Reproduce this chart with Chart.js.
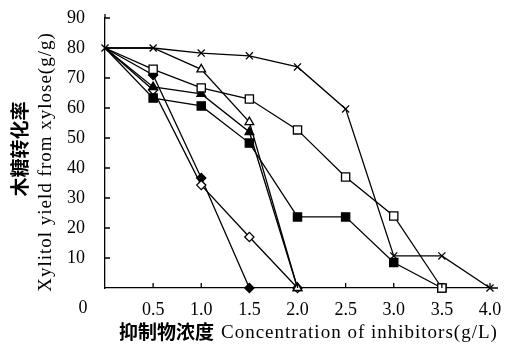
<!DOCTYPE html>
<html>
<head>
<meta charset="utf-8">
<script src="https://cdn.jsdelivr.net/npm/chart.js@4"></script>
<style>
  html, body { margin: 0; padding: 0; background: #fff; }
  #wrap { width: 510px; height: 344px; }
</style>
</head>
<body>
<div id="wrap"><canvas id="chart" width="510" height="344"></canvas></div>
<script>
// inhibitor concentration (g/L)
const concentration = [0, 0.5, 1.0, 1.5, 2.0, 2.5, 3.0, 3.5, 4.0];
// xylitol yield from xylose, one array per inhibitor
const crossYield = [80, 80, 78.3, 77.4, 73.7, 59.7, 10.7, 10.7, 0];
const openSquareYield = [80, 72.9, 66.7, 63, 52.7, 37, 24, 0];
const filledSquareYield = [80, 63.3, 60.7, 48.3, 23.7, 23.7, 8.5, 0];
const openTriangleYield = [80, 80, 72.9, 55.3, 0];
const filledTriangleYield = [80, 67, 64.7, 52, 0];
const filledDiamondYield = [80, 71, 36.7, 0];
const openDiamondYield = [80, 66, 34.3, 17, 0];

const xTicks = [0.5, 1.0, 1.5, 2.0, 2.5, 3.0, 3.5, 4.0];
const yTicks = [10, 20, 30, 40, 50, 60, 70, 80, 90];

const serif = '"Liberation Serif", "DejaVu Serif", serif';

function pts(values) {
    return values.map((v, i) => ({ x: concentration[i], y: v }));
}

// hide markers where several curves start from the same point
function makeSeries(values, style, fill, radius, hideAt) {
    return {
        data: pts(values),
        borderColor: '#000',
        borderWidth: 1.3,
        pointStyle: style,
        pointBackgroundColor: fill,
        pointBorderColor: '#000',
        pointBorderWidth: 1.3,
        pointRadius: ctx => hideAt.includes(ctx.dataIndex) ? 0 : radius,
        tension: 0,
        clip: false
    };
}

const axisExtras = {
    id: 'axisExtras',
    afterDraw(chart) {
        const ctx = chart.ctx;
        const x = chart.scales.x;
        const y = chart.scales.y;
        ctx.save();
        ctx.strokeStyle = '#000';
        ctx.lineWidth = 1.3;
        // inward tick marks
        ctx.beginPath();
        xTicks.forEach(t => {
            const px = x.getPixelForValue(t);
            ctx.moveTo(px, y.bottom);
            ctx.lineTo(px, y.bottom - 5);
        });
        yTicks.forEach(t => {
            const py = y.getPixelForValue(t);
            ctx.moveTo(x.left, py);
            ctx.lineTo(x.left + 5, py);
        });
        // axis line runs a little past the top tick
        ctx.moveTo(x.left, y.top);
        ctx.lineTo(x.left, y.top - 4);
        ctx.moveTo(x.right, y.bottom);
        ctx.lineTo(x.right + 8, y.bottom);
        ctx.stroke();

        ctx.fillStyle = '#000';
        // origin label
        ctx.font = '18px ' + serif;
        ctx.textAlign = 'center';
        ctx.textBaseline = 'middle';
        ctx.fillText('0', x.getPixelForValue(0) - 22, y.bottom + 20);

        // x title
        ctx.textAlign = 'left';
        ctx.textBaseline = 'middle';
        ctx.font = 'bold 19px "Noto Sans CJK SC"';
        ctx.fillText('抑制物浓度', 119, 332);
        ctx.letterSpacing = '1px';
        ctx.font = '19px ' + serif;
        ctx.fillText('Concentration of inhibitors(g/L)', 221, 333);

        // y title
        ctx.save();
        ctx.translate(20, 149);
        ctx.rotate(-Math.PI / 2);
        ctx.textAlign = 'center';
        ctx.letterSpacing = '0px';
        ctx.font = 'bold 19px "Noto Sans CJK SC"';
        ctx.fillText('木糖转化率', 0, 0);
        ctx.restore();
        ctx.save();
        ctx.translate(46, 162);
        ctx.rotate(-Math.PI / 2);
        ctx.textAlign = 'center';
        ctx.letterSpacing = '1px';
        ctx.font = '19px ' + serif;
        ctx.fillText('Xylitol yield from xylose(g/g)', 0, 0);
        ctx.restore();
        ctx.restore();
    }
};

new Chart(document.getElementById('chart'), {
    type: 'line',
    data: {
        datasets: [
            makeSeries(crossYield, 'crossRot', '#000', 5, []),
            makeSeries(openSquareYield, 'rect', '#fff', 5.8, [0]),
            makeSeries(filledSquareYield, 'rect', '#000', 5.8, [0]),
            makeSeries(openTriangleYield, 'triangle', '#fff', 5, [0, 1]),
            makeSeries(filledTriangleYield, 'triangle', '#000', 5, [0]),
            makeSeries(openDiamondYield, 'rectRot', '#fff', 4.6, [0]),
            makeSeries(filledDiamondYield, 'rectRot', '#000', 4.6, [0])
        ]
    },
    options: {
        responsive: false,
        animation: false,
        layout: { padding: { left: 0, right: 20, top: 18, bottom: 0 } },
        plugins: {
            legend: { display: false },
            tooltip: { enabled: false }
        },
        scales: {
            x: {
                type: 'linear',
                min: 0,
                max: 4.0,
                afterBuildTicks: scale => {
                    scale.ticks = xTicks.map(v => ({ value: v }));
                },
                afterFit: scale => {
                    scale.height = 56;
                    scale.paddingLeft = 0;
                    scale.paddingRight = 0;
                },
                grid: { display: false, drawTicks: false },
                border: { display: true, color: '#000', width: 1.3 },
                ticks: {
                    color: '#000',
                    padding: 11,
                    maxRotation: 0,
                    font: { family: serif, size: 18 },
                    callback: v => v.toFixed(1)
                }
            },
            y: {
                type: 'linear',
                min: 0,
                max: 90,
                afterBuildTicks: scale => {
                    scale.ticks = yTicks.map(v => ({ value: v }));
                },
                afterFit: scale => {
                    scale.width = 105;
                    scale.paddingTop = 0;
                    scale.paddingBottom = 0;
                },
                grid: { display: false, drawTicks: false },
                border: { display: true, color: '#000', width: 1.3 },
                ticks: {
                    color: '#000',
                    padding: 20,
                    font: { family: serif, size: 18 }
                }
            }
        }
    },
    plugins: [axisExtras]
});
</script>
</body>
</html>
